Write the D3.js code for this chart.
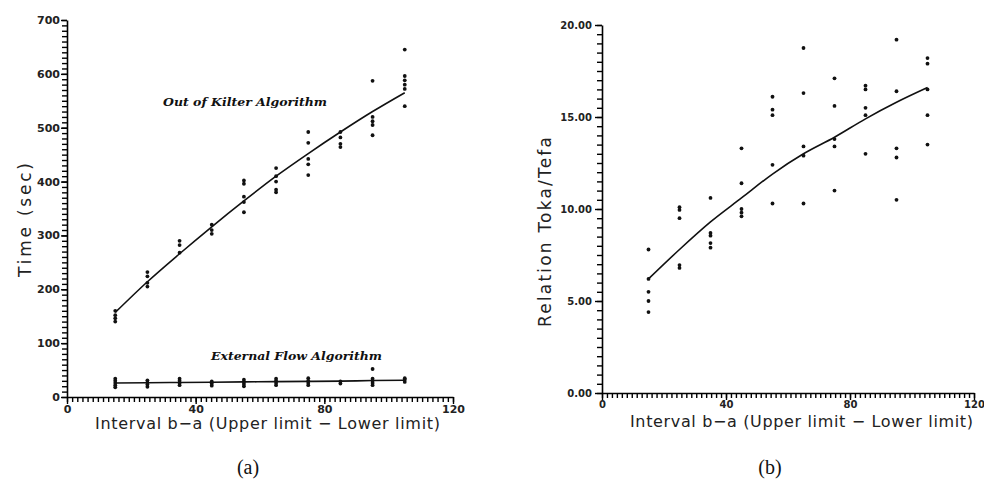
<!DOCTYPE html>
<html>
<head>
<meta charset="utf-8">
<script src="https://cdn.jsdelivr.net/npm/d3@7"></script>
<style>
    html, body { margin: 0; padding: 0; background: #fff; }
    svg { display: block; }
</style>
</head>
<body>
<div id="render-zone"></div>
<script>
/* values */
var intervals = [15, 25, 35, 45, 55, 65, 75, 85, 95, 105];

/* (a) time in seconds, one list of runs per interval */
var kilterRuns = [
    [160, 152, 146, 140],
    [232, 224, 212, 205],
    [290, 282, 268],
    [320, 310, 303],
    [402, 396, 372, 362, 343],
    [425, 410, 400, 385, 380],
    [492, 472, 442, 432, 412],
    [492, 482, 470, 464],
    [587, 520, 512, 505, 486],
    [645, 596, 588, 580, 572, 540]
];
var kilterFit = [157, 214, 266, 316, 364, 410, 452, 492, 530, 565];

var flowRuns = [
    [18, 22, 26, 30, 34],
    [19, 23, 27, 31],
    [22, 26, 30, 34],
    [21, 25, 29],
    [20, 24, 28, 32],
    [22, 26, 30, 34],
    [22, 26, 30, 35],
    [25, 29],
    [22, 26, 30, 34, 52],
    [28, 32, 35]
];
var flowFit = [26, 26.5, 27, 27.5, 28, 28.5, 29, 29.5, 30.5, 31];

/* (b) relation Toka/Tefa */
var ratioRuns = [
    [7.8, 6.2, 5.5, 5.0, 4.4],
    [10.1, 9.95, 9.5, 6.95, 6.8],
    [10.6, 8.7, 8.55, 8.15, 7.9],
    [13.3, 11.4, 10.0, 9.8, 9.6],
    [16.1, 15.4, 15.1, 12.4, 10.3],
    [18.75, 16.3, 13.4, 12.9, 10.3],
    [17.1, 15.6, 13.8, 13.4, 11.0],
    [16.7, 16.5, 15.5, 15.1, 13.0],
    [19.2, 16.4, 13.3, 12.8, 10.5],
    [18.2, 17.9, 16.5, 15.1, 13.5]
];
var ratioFit = [6.2, 7.8, 9.3, 10.6, 11.9, 13.0, 13.9, 14.9, 15.8, 16.6];

/* tick labels */
var intervalTicks = [0, 40, 80, 120];
var timeTicks = [0, 100, 200, 300, 400, 500, 600, 700];
var ratioTicks = [0, 5, 10, 15, 20];

(function( w ) {

"use strict";

var _svg,
    _d,

    /* _tsm
     * translate helper
     */
    _tsm = function( x, y ){ return "translate(" + x + "," + y + ")"; },

    /* _set
     * applies a hash of attributes to a selection
     */
    _set = function( sel, attrs ){
        for( var k in attrs ){ sel.attr(k, attrs[k]); }
        return sel;
    },

    /* _axes
     * Draws the frame of one panel: minor + major ticks
     * @param {{object}} g The panel group
     * @param {{object}} p The panel settings
     */
    _axes = function( g, p, x, y ) {
        var x0 = p.xr[0], y0 = p.yr[0], blank = function( ){ return ""; };

        /* minor ticks first, no labels */
        g.append("g")
            .attr("class", "minor")
            .attr("transform", _tsm(0, y0))
            .call(d3.axisBottom(x).tickValues(d3.range(0, 120.01, 1.6)).tickSize(5).tickSizeOuter(0).tickFormat(blank));
        g.append("g")
            .attr("class", "minor")
            .attr("transform", _tsm(x0, 0))
            .call(d3.axisLeft(y).tickValues(p.minor).tickSize(5).tickSizeOuter(0).tickFormat(blank));
        g.selectAll(".minor .domain").remove();

        /* major ticks with labels */
        g.append("g")
            .attr("transform", _tsm(0, y0))
            .call(d3.axisBottom(x).tickValues(intervalTicks).tickSize(7).tickSizeOuter(0).tickPadding(1))
            .call(function( a ){ _set(a.selectAll("text"), _d.ticktext).attr("font-size", p.tickFont); });
        g.append("g")
            .attr("transform", _tsm(x0, 0))
            .call(d3.axisLeft(y).tickValues(p.ticks).tickSize(p.tickLen).tickSizeOuter(0)
                .tickPadding(p.tickPad).tickFormat(d3.format(p.fmt)))
            .call(function( a ){ _set(a.selectAll("text"), _d.ticktext).attr("font-size", p.tickFont); });

        g.selectAll(".domain").attr("stroke", "#000").attr("stroke-width", 1.6);
        g.selectAll(".tick line").attr("stroke", "#000").attr("stroke-width", 1.4);
    },

    /* _series
     * Dots for each run and the fitted curve through them
     */
    _series = function( g, x, y, runs, fit ) {
        var pts = [ ], i, j;
        for( i = 0; i < runs.length; i++ ){
            for( j = 0; j < runs[i].length; j++ ){
                pts.push({ x: intervals[i], v: runs[i][j] });
            }
        }

        g.append("path")
            .datum(fit)
            .attr("fill", "none")
            .attr("stroke", "#111")
            .attr("stroke-width", 1.6)
            .attr("d", d3.line()
                .x(function( d, k ){ return x(intervals[k]); })
                .y(function( d ){ return y(d); })
                .curve(d3.curveMonotoneX));

        g.append("g").selectAll("circle")
            .data(pts)
            .join("circle")
            .attr("cx", function( d ){ return x(d.x); })
            .attr("cy", function( d ){ return y(d.v); })
            .attr("r", 1.9)
            .attr("fill", "#111");
    },

    /* _text
     * text node from a style hash plus placement
     */
    _text = function( g, style, txt, attrs ) {
        var t = _set(g.append("text"), style);
        return _set(t, attrs).text(txt);
    },

    _render = function( ) {
        _svg = d3.select("#render-zone").append("svg")
            .attr("width", 984).attr("height", 489)
            .attr("font-family", "'DejaVu Sans', sans-serif");

        _svg.append("rect").attr("width", 984).attr("height", 489).attr("fill", "#fff");

        /* ---- panel (a) ---- */
        var pa = _d.panelA,
            ga = _svg.append("g"),
            xa = d3.scaleLinear().domain([0, 120]).range(pa.xr),
            ya = d3.scaleLinear().domain([0, 700]).range(pa.yr);

        _axes(ga, pa, xa, ya);
        _series(ga, xa, ya, kilterRuns, kilterFit);
        _series(ga, xa, ya, flowRuns, flowFit);

        _text(ga, _d.curvetext, "Out of Kilter Algorithm", { x: 163, y: 106, textLength: 164 });
        _text(ga, _d.curvetext, "External Flow Algorithm", { x: 211, y: 360, textLength: 171 });

        _text(ga, _d.title, "Interval b\u2212a (Upper limit \u2212 Lower limit)",
            { x: 95, y: 429, textLength: 345 });
        _text(ga, _d.title, "Time (sec)",
            { transform: _tsm(31, 220) + " rotate(-90)", x: -57, y: 0, textLength: 114, "font-size": "17px" });
        _text(ga, _d.caption, "(a)", { x: 248, y: 474 });

        /* ---- panel (b) ---- */
        var pb = _d.panelB,
            gb = _svg.append("g"),
            xb = d3.scaleLinear().domain([0, 120]).range(pb.xr),
            yb = d3.scaleLinear().domain([0, 20]).range(pb.yr);

        _axes(gb, pb, xb, yb);
        _series(gb, xb, yb, ratioRuns, ratioFit);

        _text(gb, _d.title, "Interval b\u2212a (Upper limit \u2212 Lower limit)",
            { x: 630, y: 427, textLength: 343 });
        _text(gb, _d.title, "Relation Toka/Tefa",
            { transform: _tsm(551, 232) + " rotate(-90)", x: -95, y: 0, textLength: 190, "font-size": "17px" });
        _text(gb, _d.caption, "(b)", { x: 770, y: 474 });
    };

/* Default setting definitions */
_d = {
    panelA : {
        xr : [67, 453], yr : [397, 20],
        ticks : timeTicks, minor : d3.range(0, 701, 10),
        fmt : "d", tickLen : 6, tickPad : 1, tickFont : "11px"
    },
    panelB : {
        xr : [602, 974], yr : [393, 25],
        ticks : ratioTicks, minor : d3.range(0, 20.01, 0.5),
        fmt : ".2f", tickLen : 7, tickPad : 3, tickFont : "10px"
    },
    ticktext : {
        "font-family" : "'DejaVu Sans', sans-serif",
        "font-weight" : "bold",
        "fill" : "#222"
    },
    title : {
        "font-family" : "'DejaVu Sans', sans-serif",
        "font-size" : "16px",
        "fill" : "#222",
        "lengthAdjust" : "spacing"
    },
    curvetext : {
        "font-family" : "'DejaVu Serif', serif",
        "font-size" : "11px",
        "font-weight" : "bold",
        "font-style" : "italic",
        "fill" : "#111",
        "lengthAdjust" : "spacingAndGlyphs"
    },
    caption : {
        "font-family" : "'Liberation Serif', 'Times New Roman', serif",
        "font-size" : "20px",
        "fill" : "#111",
        "text-anchor" : "middle"
    }
};

_render( );

})( window );
</script>
</body>
</html>
